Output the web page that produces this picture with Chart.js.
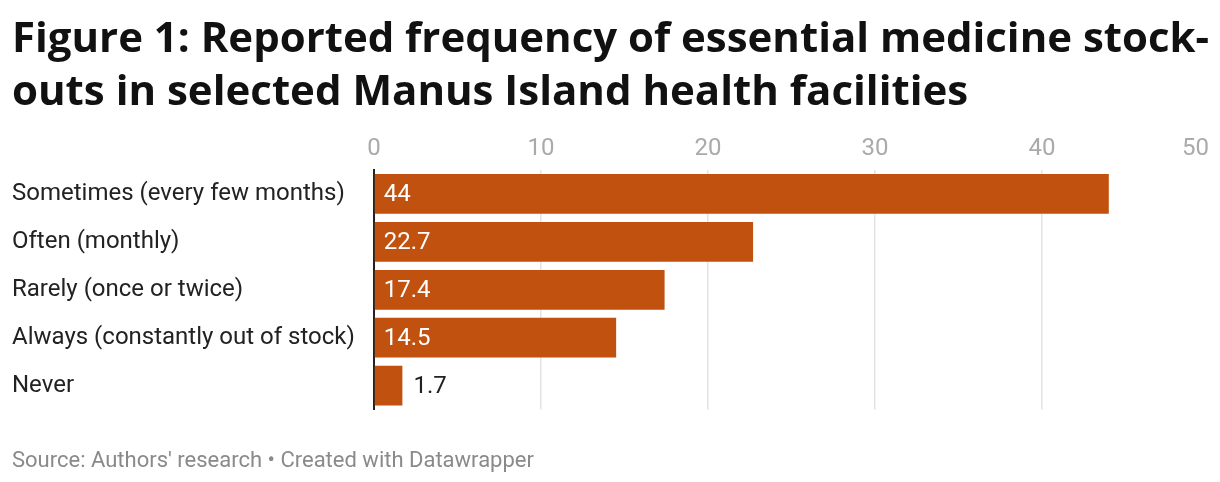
<!DOCTYPE html>
<html>
<head>
<meta charset="utf-8">
<script src="https://cdn.jsdelivr.net/npm/chart.js@4"></script>
<style>
  html, body { margin: 0; padding: 0; background: #fff; }
  #wrap { width: 1220px; height: 482px; }
</style>
</head>
<body>
<div id="wrap"><canvas id="chart"></canvas></div>
<script>
const categories = [
  'Sometimes (every few months)',
  'Often (monthly)',
  'Rarely (once or twice)',
  'Always (constantly out of stock)',
  'Never'
];
const values = [44, 22.7, 17.4, 14.5, 1.7];
const xTicks = [0, 10, 20, 30, 40, 50];

const barColor = '#c0510e';

// x tick labels drawn on top, last one right-aligned like Datawrapper
const topTicks = {
  id: 'topTicks',
  afterDraw(chart) {
    const { ctx, scales: { x }, chartArea } = chart;
    ctx.save();
    ctx.font = '24px Roboto';
    ctx.fillStyle = '#aaaaaa';
    ctx.textBaseline = 'middle';
    xTicks.forEach((v, i) => {
      const px = x.getPixelForValue(v);
      ctx.textAlign = i === xTicks.length - 1 ? 'right' : 'center';
      ctx.fillText(String(v), px, chartArea.top - 21);
    });
    ctx.restore();
  }
};

// value labels, inside the bar when they fit
const valueLabels = {
  id: 'valueLabels',
  afterDatasetsDraw(chart) {
    const { ctx } = chart;
    const meta = chart.getDatasetMeta(0);
    ctx.save();
    ctx.font = '24px Roboto';
    ctx.textBaseline = 'middle';
    ctx.textAlign = 'left';
    meta.data.forEach((bar, i) => {
      const txt = String(values[i]);
      const w = ctx.measureText(txt).width;
      const barW = bar.x - bar.base;
      if (barW > w + 20) {
        ctx.fillStyle = '#ffffff';
        ctx.fillText(txt, bar.base + 9, bar.y + 1);
      } else {
        ctx.fillStyle = '#222222';
        ctx.fillText(txt, bar.x + 11, bar.y + 1);
      }
    });
    ctx.restore();
  }
};

new Chart(document.getElementById('chart'), {
  type: 'bar',
  data: {
    labels: categories,
    datasets: [{
      data: values,
      backgroundColor: barColor,
      barPercentage: 0.83,
      categoryPercentage: 1
    }]
  },
  options: {
    indexAxis: 'y',
    responsive: true,
    maintainAspectRatio: false,
    animation: false,
    layout: { padding: { left: 12, right: 11, top: 0, bottom: 7 } },
    plugins: {
      legend: { display: false },
      tooltip: { enabled: false },
      title: {
        display: true,
        align: 'start',
        text: [
          'Figure 1: Reported frequency of essential medicine stock-',
          'outs in selected Manus Island health facilities'
        ],
        color: '#111111',
        font: { family: "'Open Sans'", size: 42, weight: 'bold', lineHeight: 1.25 },
        padding: { top: 14, bottom: 51 }
      },
      subtitle: {
        display: true,
        position: 'bottom',
        align: 'start',
        text: "Source: Authors' research \u2022 Created with Datawrapper",
        color: '#8a8a8a',
        font: { family: 'Roboto', size: 22, lineHeight: 1.2 },
        padding: { top: 39, bottom: 0 }
      }
    },
    scales: {
      x: {
        position: 'top',
        min: 0,
        max: 50,
        ticks: { display: false, stepSize: 10 },
        border: { display: false },
        grid: {
          color: (c) => (c.tick && c.tick.value === 50 ? 'rgba(0,0,0,0)' : '#e3e3e3'),
          lineWidth: 1.5,
          drawTicks: false
        }
      },
      y: {
        grid: { display: false },
        border: { color: '#222222', width: 2 },
        ticks: {
          crossAlign: 'far',
          color: '#222222',
          padding: 10,
          font: { family: 'Roboto', size: 24 }
        },
        afterFit(scale) { scale.width = 362; }
      }
    }
  },
  plugins: [topTicks, valueLabels]
});
</script>
</body>
</html>
